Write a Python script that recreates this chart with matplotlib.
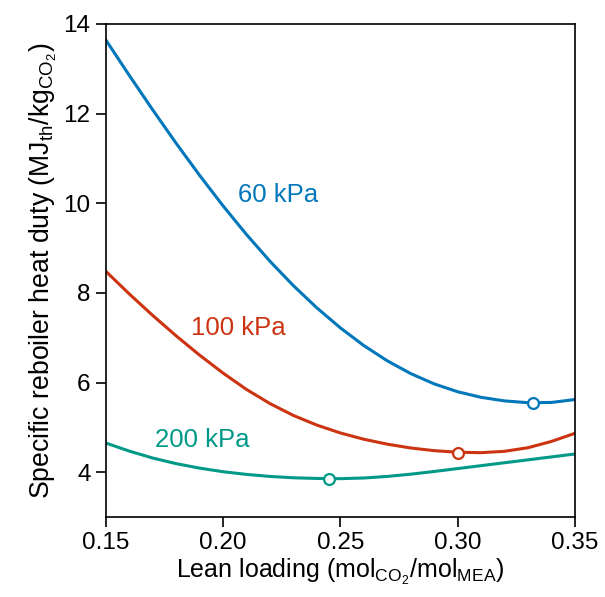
import matplotlib
matplotlib.use("Agg")
import matplotlib.pyplot as plt

plt.rcParams['font.family'] = ['Liberation Sans', 'DejaVu Sans']
plt.rcParams['mathtext.fontset'] = 'custom'
plt.rcParams['mathtext.rm'] = 'Liberation Sans'
plt.rcParams['mathtext.it'] = 'Liberation Sans:italic'
plt.rcParams['mathtext.bf'] = 'Liberation Sans:bold'

lean_loading = [0.15, 0.16, 0.17, 0.18, 0.19, 0.20, 0.21, 0.22, 0.23, 0.24, 0.25,
                0.26, 0.27, 0.28, 0.29, 0.30, 0.31, 0.32, 0.33, 0.34, 0.35]
duty_60kpa = [13.64, 12.85, 12.08, 11.335, 10.62, 9.94, 9.30, 8.705, 8.16, 7.665, 7.22,
              6.825, 6.485, 6.20, 5.97, 5.795, 5.67, 5.59, 5.55, 5.555, 5.62]
duty_100kpa = [8.48, 7.975, 7.495, 7.04, 6.61, 6.21, 5.845, 5.53, 5.265, 5.05, 4.875,
               4.735, 4.625, 4.54, 4.48, 4.445, 4.435, 4.465, 4.545, 4.685, 4.865]
duty_200kpa = [4.65, 4.47, 4.315, 4.19, 4.09, 4.01, 3.95, 3.905, 3.875, 3.86, 3.855,
               3.87, 3.905, 3.955, 4.015, 4.08, 4.145, 4.21, 4.275, 4.34, 4.405]

series_names = ["60 kPa", "100 kPa", "200 kPa"]
min_x = [0.332, 0.300, 0.245]
min_y = [5.55, 4.43, 3.855]
label_x = [0.2233, 0.2063, 0.191]
label_y = [10.18, 7.21, 4.71]
colors = ["#0077BB", "#CC3311", "#009988"]
xticks = [0.15, 0.20, 0.25, 0.30, 0.35]
yticks = [4, 6, 8, 10, 12, 14]

fig = plt.figure(figsize=(6.05, 5.97), dpi=100)
ax = fig.add_axes([0.175, 0.134, 0.775, 0.826])

for ys, name, mx, my, lx, ly, c in zip([duty_60kpa, duty_100kpa, duty_200kpa], series_names,
                                        min_x, min_y, label_x, label_y, colors):
    ax.plot(lean_loading, ys, color=c, lw=2.2, solid_joinstyle='round', zorder=2)
    ax.plot([mx], [my], 'o', ms=7.8, mfc='white', mec=c, mew=1.6, zorder=3)
    ax.text(lx, ly, name, color=c, fontsize=18.5, ha='center', va='center')

ax.set_xlim(0.15, 0.35)
ax.set_ylim(3, 14)
ax.set_xticks(xticks)
ax.set_xticklabels([f"{t:.2f}" for t in xticks])
ax.set_yticks(yticks)
ax.tick_params(axis='both', direction='out', length=7, width=1.2, labelsize=17.5, pad=4)
for s in ax.spines.values():
    s.set_linewidth(1.2)

ax.set_xlabel(r'Lean loading (mol$_\mathrm{CO_2}$/mol$_\mathrm{MEA}$)', fontsize=18, labelpad=2)
ax.set_ylabel(r'Specific reboiler heat duty (MJ$_\mathrm{th}$/kg$_\mathrm{CO_2}$)', fontsize=19.2, labelpad=3)

fig.savefig("out.png", dpi=100)
